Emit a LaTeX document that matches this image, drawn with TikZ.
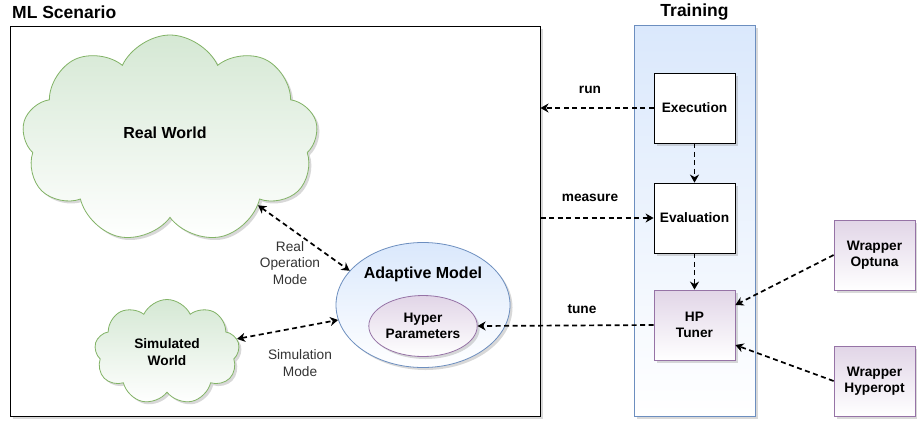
\documentclass[tikz,border=0pt]{standalone}
\usepackage{fontspec}
\setmainfont{Liberation Sans}
\usetikzlibrary{arrows.meta,shapes.symbols,shapes.geometric,shadows}

\definecolor{greenfill}{HTML}{D5E8D4}
\definecolor{greenline}{HTML}{82B366}
\definecolor{bluefill}{HTML}{DAE8FC}
\definecolor{blueline}{HTML}{6C8EBF}
\definecolor{purplefill}{HTML}{E1D5E7}
\definecolor{purpleline}{HTML}{9673A6}
\definecolor{notegray}{HTML}{333333}

\begin{document}
\begin{tikzpicture}
			[x=1pt,y=-1pt,
			font=\fontsize{13.7}{16.5}\selectfont,
			softshadow/.style={drop shadow={shadow xshift=2.5pt,shadow yshift=-2.5pt,opacity=0.3}},
			title/.style={inner sep=0pt,font=\fontsize{17.5}{20}\selectfont\bfseries},
			frame/.style={draw,line width=1pt,fill=white,softshadow},
			lane/.style={draw=blueline,line width=0.8pt,top color=bluefill,bottom color=white,softshadow},
			world/.style={cloud,cloud puffs=9,cloud puff arc=130,cloud ignores aspect,draw=greenline,line width=0.8pt,
				top color=greenfill,bottom color=white,align=center,font=\fontsize{13.7}{16.5}\selectfont\bfseries,softshadow},
			model/.style={ellipse,draw=blueline,line width=0.8pt,top color=bluefill,bottom color=white,softshadow},
			params/.style={ellipse,draw=purpleline,line width=0.8pt,top color=purplefill,bottom color=white,
				align=center,font=\fontsize{13.7}{16.5}\selectfont\bfseries,softshadow},
			task/.style={rectangle,draw,line width=0.8pt,fill=white,minimum width=81,minimum height=70,
				align=center,font=\fontsize{13.7}{16.5}\selectfont\bfseries,softshadow},
			tuner/.style={task,draw=purpleline,top color=purplefill,bottom color=white},
			edgelabel/.style={font=\fontsize{13.7}{16.5}\selectfont\bfseries},
			note/.style={align=center,text=notegray},
			flow/.style={dash pattern=on 5pt off 3.5pt,line width=1.7pt,-{Stealth[length=8pt,width=9pt,inset=2.5pt]}},
			both/.style={flow,{Stealth[length=8pt,width=9pt,inset=2.5pt]}-{Stealth[length=8pt,width=9pt,inset=2.5pt]}}]
			\useasboundingbox (0,0) rectangle (917,421);
			% ML scenario
			\node at (275,221) [frame,minimum width=530,minimum height=390] (ml) {};
			\node at (12,12) [title,anchor=west] (mltitle) {ML Scenario};
			\node at (170,139) [world,minimum width=296,minimum height=208,font=\fontsize{16}{19}\selectfont\bfseries] (real) {};
			\node at (165,133) [font=\fontsize{16}{19}\selectfont\bfseries] (realtext) {Real World};
			\node at (167,352) [world,minimum width=145,minimum height=105] (sim) {Simulated\\World};
			\node at (423,305) [model,minimum width=174,minimum height=125] (adapt) {};
			\node at (423,274) [font=\fontsize{16}{19}\selectfont\bfseries] (adapttitle) {Adaptive Model};
			\node at (423,326) [params,minimum width=100,minimum height=61,inner sep=1pt] (hyper) {Hyper\\Parameters};
			\node at (290,263) [note] (realmode) {Real\\Operation\\Mode};
			\node at (300,363) [note] (simmode) {Simulation\\Mode};
			% training
			\node at (694.5,220.5) [lane,minimum width=121,minimum height=391] (train) {};
			\node at (694.5,12) [title] (traintitle) {Training};
			\node at (694.5,108) [task]  (exec)     {Execution};
			\node at (694.5,218) [task]  (eval)     {Evaluation};
			\node at (694.5,325) [tuner] (hp)       {HP\\Tuner};
			\node at (874.5,255) [tuner] (optuna)   {Wrapper\\Optuna};
			\node at (874.5,381) [tuner] (hyperopt) {Wrapper\\Hyperopt};
			% connectors
			\draw[flow] (exec.west) -- (exec.west -| ml.east);
			\draw[flow] (eval.west -| ml.east) -- (eval.west);
			\draw[flow] (hp.west) -- (hyper.east);
			\draw[flow] (exec) -- (eval);
			\draw[flow] (eval) -- (hp);
			\draw[flow] (optuna.west) -- ([yshift=20pt]hp.east);
			\draw[flow] (hyperopt.west) -- ([yshift=-20pt]hp.east);
			\draw[both] (real.-37) -- (adapt.155);
			\draw[both] (sim) -- (adapt.190);
			\node at (590,90)  [edgelabel] (runlabel)     {run};
			\node at (590,198) [edgelabel] (measurelabel) {measure};
			\node at (582,309) [edgelabel] (tunelabel)    {tune};
		\end{tikzpicture}
\end{document}
